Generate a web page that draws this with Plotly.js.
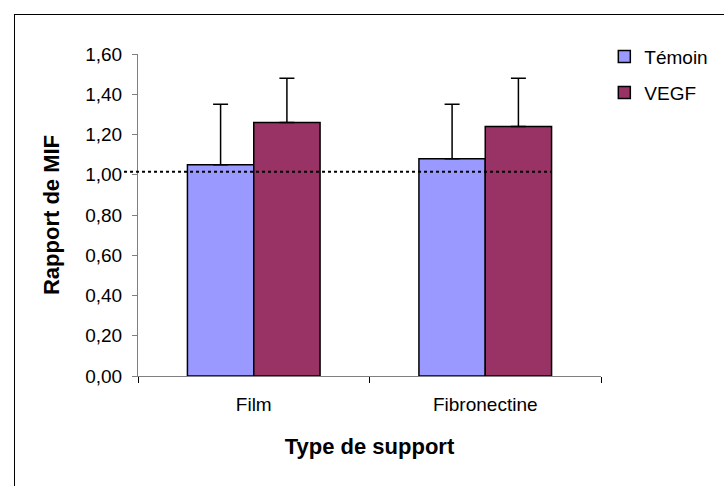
<!DOCTYPE html>
<html>
<head>
<meta charset="utf-8">
<script src="https://cdn.plot.ly/plotly-3.0.1.min.js"></script>
<style>
html,body{margin:0;padding:0;background:#fff;}
#wrap{position:relative;width:724px;height:486px;overflow:hidden;}
#chart{position:absolute;left:0;top:0;width:724px;height:486px;}
#frame{position:absolute;left:14px;top:14px;width:720px;height:480px;border-left:1px solid #000;border-top:1px solid #000;pointer-events:none;}
</style>
</head>
<body>
<div id="wrap"><div id="chart"></div><div id="frame"></div></div>
<script>
const categories = ["Film", "Fibronectine"];
const seriesNames = ["Témoin", "VEGF"];
const temoin = [1.05, 1.08];
const temoinErr = [0.30, 0.27];
const vegf = [1.26, 1.24];
const vegfErr = [0.22, 0.24];
const refLine = 1.015;
const yTickVals = [0, 0.2, 0.4, 0.6, 0.8, 1.0, 1.2, 1.4, 1.6];
const yTickText = ["0,00", "0,20", "0,40", "0,60", "0,80", "1,00", "1,20", "1,40", "1,60"];

const FONT = "Liberation Sans, Arial, sans-serif";

function barTrace(name, vals, errs, color, legendId) {
  return {
    type: "bar",
    name: name,
    x: categories,
    y: vals,
    marker: {color: color, line: {color: "#000", width: 1.5}},
    error_y: {type: "data", symmetric: false, array: errs, arrayminus: vals.map(() => 0),
              color: "#000", thickness: 1.5, width: 7.5},
    legend: legendId
  };
}

const data = [
  barTrace(seriesNames[0], temoin, temoinErr, "#9999FF", "legend"),
  barTrace(seriesNames[1], vegf, vegfErr, "#993366", "legend2")
];

const legendCommon = {
  x: 1.005, xanchor: "left", yanchor: "middle",
  font: {family: FONT, size: 19, color: "#000"},
  bgcolor: "rgba(0,0,0,0)", borderwidth: 0
};

const layout = {
  width: 724, height: 486,
  margin: {l: 138, r: 122, t: 54, b: 110},
  paper_bgcolor: "#fff", plot_bgcolor: "#fff",
  font: {family: FONT, size: 19, color: "#000"},
  barmode: "group", bargap: 0.427, bargroupgap: 0,
  showlegend: true,
  legend: Object.assign({}, legendCommon, {y: 1 - (56.7 - 54) / 321.7}),
  legend2: Object.assign({}, legendCommon, {y: 1 - (92.7 - 54) / 321.7}),
  xaxis: {
    type: "category",
    showline: true, linecolor: "#808080", linewidth: 1,
    ticks: "outside", tickson: "boundaries", ticklen: 6, tickcolor: "#000", tickwidth: 1,
    showgrid: false, zeroline: false,
    ticklabelstandoff: 11,
    tickfont: {family: FONT, size: 19, color: "#000"},
    title: {text: "Type de support", font: {family: FONT, size: 22, color: "#000", weight: "bold"}, standoff: 24}
  },
  yaxis: {
    range: [0, 1.6],
    tickvals: yTickVals, ticktext: yTickText,
    showline: true, linecolor: "#808080", linewidth: 1,
    ticks: "outside", ticklen: 5, tickcolor: "#808080", tickwidth: 1,
    showgrid: false, zeroline: false,
    ticklabelstandoff: 6,
    tickfont: {family: FONT, size: 19, color: "#000"},
    title: {text: "Rapport de MIF", font: {family: FONT, size: 22, color: "#000", weight: "bold"}, standoff: 19}
  },
  shapes: [{
    type: "line", xref: "paper", yref: "y",
    x0: (124 - 138) / 464, x1: (552 - 138) / 464,
    y0: refLine, y1: refLine,
    line: {color: "#000", width: 2, dash: "dot"}
  }]
};

Plotly.newPlot("chart", data, layout, {displayModeBar: false, staticPlot: true});
</script>
</body>
</html>
